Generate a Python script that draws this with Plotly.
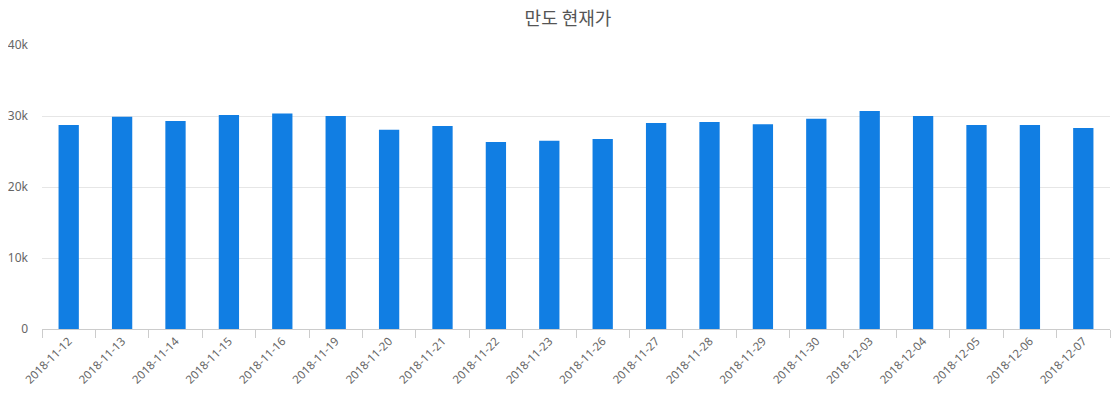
import plotly.graph_objects as go

dates = ['2018-11-12', '2018-11-13', '2018-11-14', '2018-11-15', '2018-11-16',
         '2018-11-19', '2018-11-20', '2018-11-21', '2018-11-22', '2018-11-23',
         '2018-11-26', '2018-11-27', '2018-11-28', '2018-11-29', '2018-11-30',
         '2018-12-03', '2018-12-04', '2018-12-05', '2018-12-06', '2018-12-07']
price = [28750, 29900, 29300, 30150, 30350, 30000, 28050, 28600, 26350, 26500,
         26750, 29000, 29150, 28850, 29600, 30700, 30000, 28750, 28750, 28300]
yticks = [0, 10000, 20000, 30000, 40000]
ytext = ['0', '10k', '20k', '30k', '40k']

fig = go.Figure(go.Bar(x=dates, y=price, marker_color='#117ee3', marker_line_width=0))

# page body has an 8px margin, so the margins are trimmed to land where the reference is
fig.update_layout(
    width=1120, height=400,
    margin=dict(l=34, r=18, t=37, b=79),
    title=dict(text='만도 현재가', x=0.5, xanchor='center', y=0.974, yanchor='middle',
               font=dict(family='Noto Sans CJK KR', size=18, color='#555555', weight=400)),
    font=dict(family='Noto Sans, sans-serif', size=11, color='#666666'),
    plot_bgcolor='white', paper_bgcolor='white',
    bargap=0.62, showlegend=False,
)
fig.update_xaxes(type='category', tickangle=-45, showline=True, linecolor='#cccccc', linewidth=1,
                 ticks='outside', tickson='boundaries', ticklen=8, tickcolor='#cccccc',
                 showgrid=False, automargin=False, tickfont=dict(size=11.5, color='#666666'))
fig.update_yaxes(range=[0, 40000], tickvals=yticks, ticktext=ytext, showgrid=True,
                 gridcolor='#e6e6e6', zeroline=False, showline=False, automargin=False,
                 tickfont=dict(size=12, color='#666666'), ticklabelstandoff=13)

fig.write_html('out.html')
